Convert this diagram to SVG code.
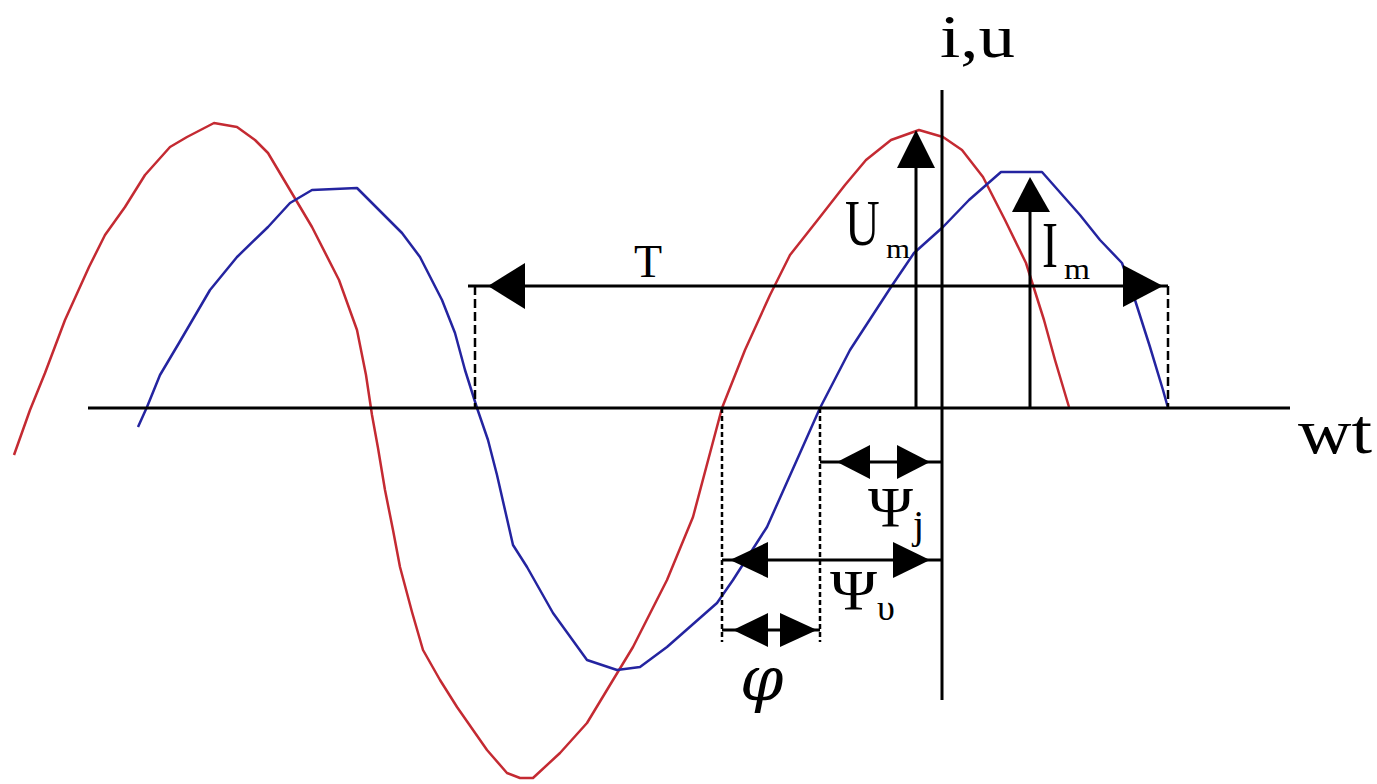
<svg xmlns="http://www.w3.org/2000/svg" width="1377" height="784" viewBox="0 0 1377 784">
<style>
.ax{stroke:#000;stroke-width:3;fill:none}
.dash{stroke:#000;stroke-width:2.5;fill:none;stroke-dasharray:9 4}
.dot{stroke:#000;stroke-width:2.5;fill:none;stroke-dasharray:5 3}
.ah{fill:#000;stroke:none}
.red{stroke:#c42a32;stroke-width:2.5;fill:none;stroke-linejoin:round}
.blue{stroke:#2424a0;stroke-width:2.5;fill:none;stroke-linejoin:round}
.t{font-family:"Liberation Serif",serif;fill:#000}
</style>
<rect width="1377" height="784" fill="#fff"/>
<g id="curves">
<polyline id="voltage" class="red" points="14,455 30,410 45,373 65,320 89,267 105,235 125,207 145,175 170,147 187,137 214,123 237,127 255,140 268,153 290,190 312,227 339,280 357,330 366,375 372,415 378,448 385,490 393,530 400,567 412,612 423,650 440,680 457,707 487,750 507,773 520,778 533,778 560,753 587,723 613,680 633,647 667,580 693,517 722,408 745,350 770,295 790,255 820,217 845,185 866,160 891,140 919,130 943,137 962,150 983,177 1005,220 1026,263 1044,320 1055,360 1069,407"/>
<polyline id="current" class="blue" points="138,427 147,407 160,375 179,343 210,290 237,257 268,227 290,203 312,190 357,188 379,210 402,233 420,257 442,300 455,333 465,370 477,408 488,440 497,475 505,510 513,545 527,567 553,613 587,660 617,670 640,667 667,647 717,603 733,580 767,527 800,453 820,408 850,350 891,287 914,253 943,227 969,200 1001,172 1042,172 1080,215 1100,240 1122,263 1135,300 1150,347 1163,390 1168,408"/>
</g>
<g id="axes">
<line class="ax" x1="88" y1="408" x2="1290" y2="408"/>
<line class="ax" x1="942" y1="90" x2="942" y2="700"/>
<text class="t" x="940" y="57" font-size="62" textLength="75" lengthAdjust="spacingAndGlyphs">i,u</text>
<text class="t" x="1298" y="453" font-size="64" textLength="74" lengthAdjust="spacingAndGlyphs">wt</text>
</g>
<g id="connectors">
<g id="period">
<line class="ax" x1="468" y1="286" x2="1168" y2="286"/>
<polygon class="ah" points="488,286 525,263 525,309"/>
<polygon class="ah" points="1163,286 1123,265 1123,307"/>
<line class="dash" x1="475" y1="286" x2="475" y2="408"/>
<line class="dash" x1="1168" y1="286" x2="1168" y2="408"/>
<text class="t" x="648" y="277" font-size="46" text-anchor="middle">T</text>
</g>
<g id="Um">
<line class="ax" x1="916" y1="408" x2="916" y2="140"/>
<polygon class="ah" points="916,130 897,168 935,168"/>
<text class="t" transform="translate(845,245) scale(1,1.35)" x="0" y="0" font-size="48">U</text>
<text class="t" x="886" y="258" font-size="28" textLength="24" lengthAdjust="spacingAndGlyphs">m</text>
</g>
<g id="Im">
<line class="ax" x1="1030" y1="408" x2="1030" y2="185"/>
<polygon class="ah" points="1030,177 1012,212 1050,212"/>
<text class="t" transform="translate(1042,267) scale(1,1.35)" x="0" y="0" font-size="48">I</text>
<text class="t" x="1064" y="279" font-size="30" textLength="26" lengthAdjust="spacingAndGlyphs">m</text>
</g>
<g id="phase">
<line class="dot" x1="722" y1="408" x2="722" y2="642"/>
<line class="dot" x1="820" y1="408" x2="820" y2="642"/>
<line class="ax" x1="820" y1="462" x2="942" y2="462"/>
<polygon class="ah" points="837,462 870,445 870,479"/>
<polygon class="ah" points="930,462 897,445 897,479"/>
<line class="ax" x1="722" y1="560" x2="942" y2="560"/>
<polygon class="ah" points="730,560 768,542 768,578"/>
<polygon class="ah" points="930,560 893,542 893,578"/>
<line class="ax" x1="722" y1="630" x2="820" y2="630"/>
<polygon class="ah" points="733,630 768,613 768,647"/>
<polygon class="ah" points="817,630 780,613 780,647"/>
<text class="t" x="868" y="527" font-size="58" textLength="45" lengthAdjust="spacingAndGlyphs">Ψ</text>
<text class="t" x="913" y="538" font-size="40">j</text>
<text class="t" x="830" y="610" font-size="58" textLength="47" lengthAdjust="spacingAndGlyphs">Ψ</text>
<text class="t" x="877" y="620" font-size="36">υ</text>
<text x="740" y="700" font-size="62" font-family="'DejaVu Serif',serif" font-style="italic" fill="#000">φ</text>
</g>
</g>
</svg>
